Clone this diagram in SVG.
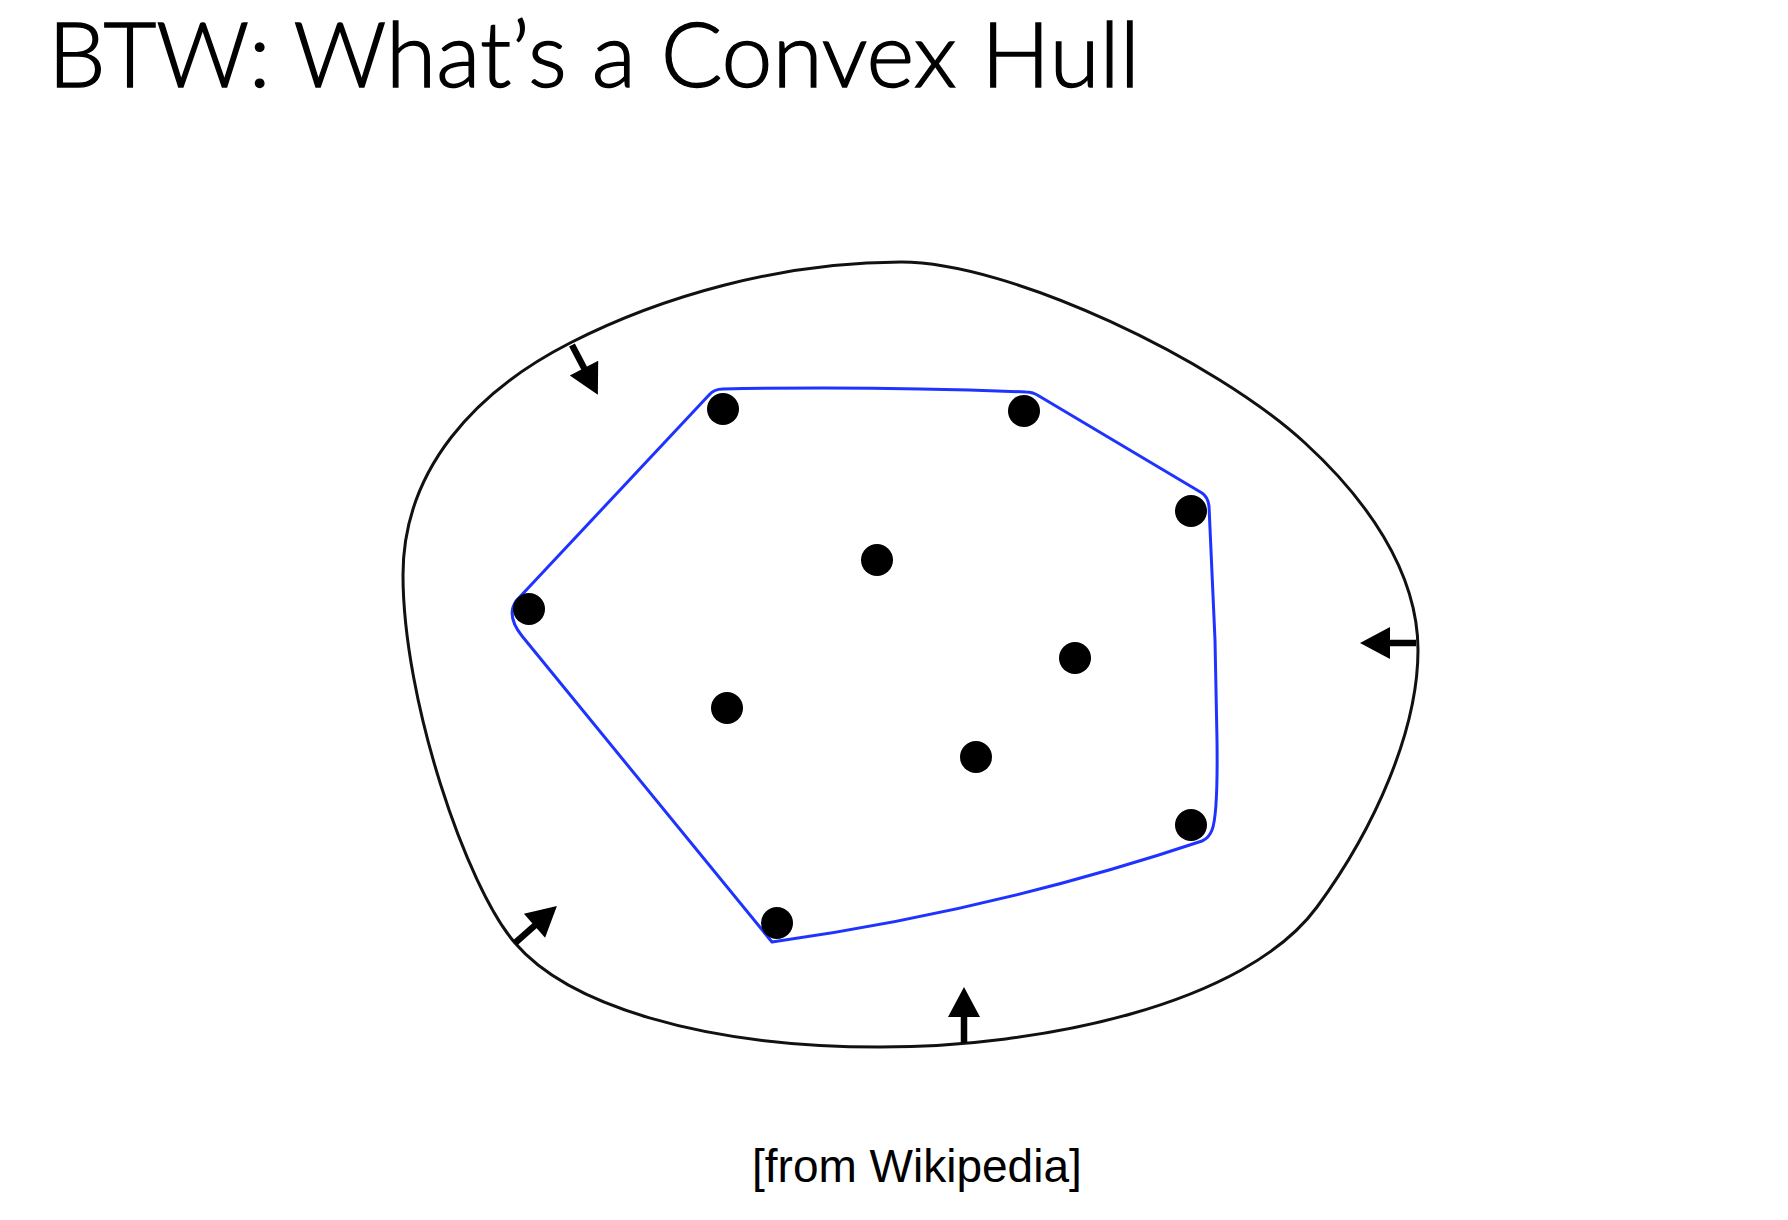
<svg xmlns="http://www.w3.org/2000/svg" xmlns:xlink="http://www.w3.org/1999/xlink" width="1788" height="1220" viewBox="0 0 1788 1220">
<style>
.title{font-family:Lato,"Open Sans","DejaVu Sans",sans-serif;font-size:90px;font-weight:300;fill:#000;stroke:#000;stroke-width:1.4}
.caption{font-family:"Liberation Sans",Arial,sans-serif;font-size:46px;fill:#000}
.outer{fill:none;stroke:#111;stroke-width:3}
.hull{fill:none;stroke:#1f33ff;stroke-width:3;stroke-linejoin:round}
.dot{fill:#000}
</style>
<defs>
<g id="arrow">
<line x1="0" y1="0" x2="30" y2="0" stroke="#000" stroke-width="6.5"/>
<polygon points="26,-16 56,0 26,16" fill="#000"/>
</g>
</defs>
<rect width="1788" height="1220" fill="#fff"/>
<text class="title" x="48" y="87" textLength="1092" lengthAdjust="spacingAndGlyphs">BTW: What’s a Convex Hull</text>
<g id="outer-shape">
<path class="outer" d="M901,262 C1010,262 1215,360 1305,443 C1364,497 1418,570 1418,650 C1418,730 1375,828 1317,907 C1245,1005 1040,1047 880,1047 C700,1047 567,1004 515,943 C466,886 403,700 403,575 C403,469 476,391 570,343 C660,297 780,262 901,262 Z"/>
</g>
<g id="convex-hull">
<path class="hull" d="M772,942 L522,636 Q506,616 516,601 L709,395 Q714,389 723,389 Q873,386 1026,392 Q1033,392 1039,396 L1202,493 Q1208,497 1209,506 L1215,640 L1217,740 Q1218,815 1212,830 Q1209,838 1202,841 Q993,911 772,942 Z"/>
</g>
<g id="points">
<circle class="dot" cx="723" cy="409" r="16"/>
<circle class="dot" cx="1024" cy="411" r="16"/>
<circle class="dot" cx="1191" cy="511" r="16"/>
<circle class="dot" cx="877" cy="560" r="16"/>
<circle class="dot" cx="529" cy="609" r="16"/>
<circle class="dot" cx="1075" cy="658" r="16"/>
<circle class="dot" cx="727" cy="708" r="16"/>
<circle class="dot" cx="976" cy="757" r="16"/>
<circle class="dot" cx="1191" cy="825" r="16"/>
<circle class="dot" cx="777" cy="923" r="16"/>
</g>
<g id="connectors">
<use xlink:href="#arrow" href="#arrow" transform="translate(572,345) rotate(62.5)"/>
<use xlink:href="#arrow" href="#arrow" transform="translate(1416,643) rotate(180)"/>
<use xlink:href="#arrow" href="#arrow" transform="translate(964,1043) rotate(-90)"/>
<use xlink:href="#arrow" href="#arrow" transform="translate(515,943) rotate(-41.5)"/>
</g>
<text class="caption" x="752" y="1182">[from Wikipedia]</text>
</svg>
